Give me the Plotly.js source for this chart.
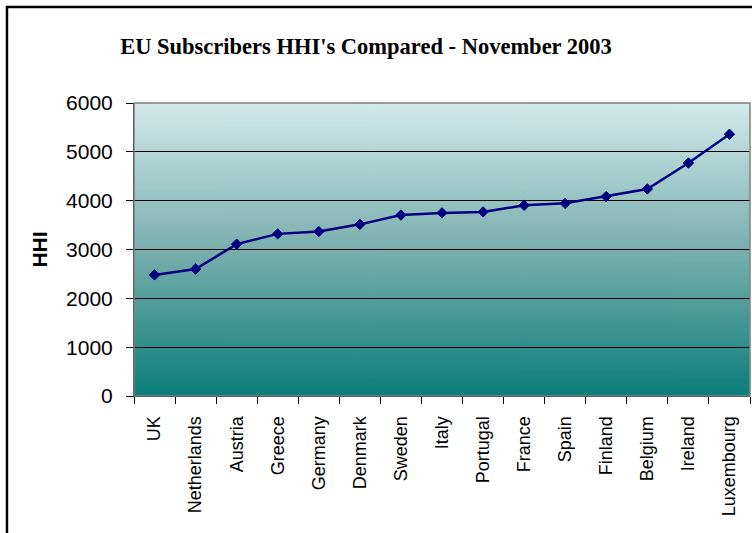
<!DOCTYPE html>
<html>
<head>
<meta charset="utf-8">
<script src="https://cdn.plot.ly/plotly-3.0.1.min.js"></script>
<style>
  html, body { margin: 0; padding: 0; background: #fff; }
  #chart { width: 752px; height: 533px; }
</style>
</head>
<body>
<div id="chart"></div>
<script>
// Data
var countries = ["UK", "Netherlands", "Austria", "Greece", "Germany", "Denmark", "Sweden",
                 "Italy", "Portugal", "France", "Spain", "Finland", "Belgium", "Ireland", "Luxembourg"];
var hhiValues = [2480, 2600, 3110, 3320, 3367, 3515, 3705, 3750, 3770, 3905, 3945, 4085, 4240, 4770, 5360];
var yTicks = [0, 1000, 2000, 3000, 4000, 5000, 6000];
var chartTitle = "EU Subscribers HHI's Compared - November 2003";
var yAxisTitle = "HHI";

// Vertical gradient for the plot background (light top, teal bottom)
function gradientURL() {
  var c = document.createElement('canvas');
  c.width = 4; c.height = 300;
  var ctx = c.getContext('2d');
  var g = ctx.createLinearGradient(0, 0, 0, 300);
  g.addColorStop(0, '#d3eaea');
  g.addColorStop(0.5, '#79afae');
  g.addColorStop(1, '#0b7e7b');
  ctx.fillStyle = g;
  ctx.fillRect(0, 0, 4, 300);
  return c.toDataURL('image/png');
}

var trace = {
  x: countries,
  y: hhiValues,
  type: 'scatter',
  mode: 'lines+markers',
  line: { color: '#000080', width: 2.5 },
  marker: { symbol: 'diamond', size: 8, color: '#000080', line: { color: '#000080', width: 1 } },
  hoverinfo: 'x+y',
  cliponaxis: false
};

var layout = {
  width: 752,
  height: 533,
  margin: { l: 134, r: 2, t: 103, b: 137, pad: 0 },
  paper_bgcolor: '#ffffff',
  plot_bgcolor: 'rgba(0,0,0,0)',
  showlegend: false,
  title: {
    text: '<b>' + chartTitle + '</b>',
    font: { family: 'Liberation Serif, Times New Roman, serif', size: 22.5, color: '#000' },
    x: 366 / 752, xref: 'container', xanchor: 'center',
    y: 1 - 46 / 533, yref: 'container', yanchor: 'middle'
  },
  xaxis: {
    type: 'category',
    tickmode: 'array',
    tickvals: countries,
    ticktext: countries,
    tickangle: -90,
    tickson: 'boundaries',
    ticks: 'outside',
    ticklen: 7,
    tickcolor: '#000',
    tickwidth: 1,
    ticklabelstandoff: 12,
    tickfont: { family: 'Liberation Sans, Arial, sans-serif', size: 18, color: '#000' },
    showgrid: false,
    showline: true,
    linecolor: '#000',
    linewidth: 1,
    zeroline: false,
    automargin: false,
    range: [-0.5, 14.5]
  },
  yaxis: {
    range: [0, 6000],
    tickmode: 'array',
    tickvals: yTicks,
    ticktext: yTicks.map(String),
    ticks: 'outside',
    ticklen: 7,
    tickcolor: '#000',
    tickwidth: 1,
    ticklabelstandoff: 9,
    tickfont: { family: 'Liberation Sans, Arial, sans-serif', size: 21, color: '#000' },
    showgrid: true,
    gridcolor: '#000',
    gridwidth: 1,
    showline: true,
    linecolor: '#000',
    linewidth: 1,
    zeroline: false,
    automargin: false,
    title: {
      text: '<b>' + yAxisTitle + '</b>',
      font: { family: 'Liberation Sans, Arial, sans-serif', size: 21, color: '#000' },
      standoff: 12
    }
  },
  images: [{
    source: gradientURL(),
    xref: 'paper', yref: 'paper',
    x: 0, y: 1, sizex: 1, sizey: 1,
    xanchor: 'left', yanchor: 'top',
    sizing: 'stretch',
    layer: 'below'
  }],
  shapes: [
    // grey plot-area border (top/right)
    { type: 'rect', xref: 'paper', yref: 'paper', x0: 0, x1: 1, y0: 0, y1: 1,
      line: { color: '#808080', width: 1.5 }, fillcolor: 'rgba(0,0,0,0)', layer: 'above' },
    // outer chart frame (left and top edges visible)
    { type: 'rect', xref: 'paper', yref: 'paper', x0: -0.2062, x1: 1.1, y0: -0.6, y1: 1.3276,
      line: { color: '#000', width: 2.5 }, fillcolor: 'rgba(0,0,0,0)', layer: 'above' }
  ]
};

Plotly.newPlot('chart', [trace], layout, { displayModeBar: false, staticPlot: true });
</script>
</body>
</html>
